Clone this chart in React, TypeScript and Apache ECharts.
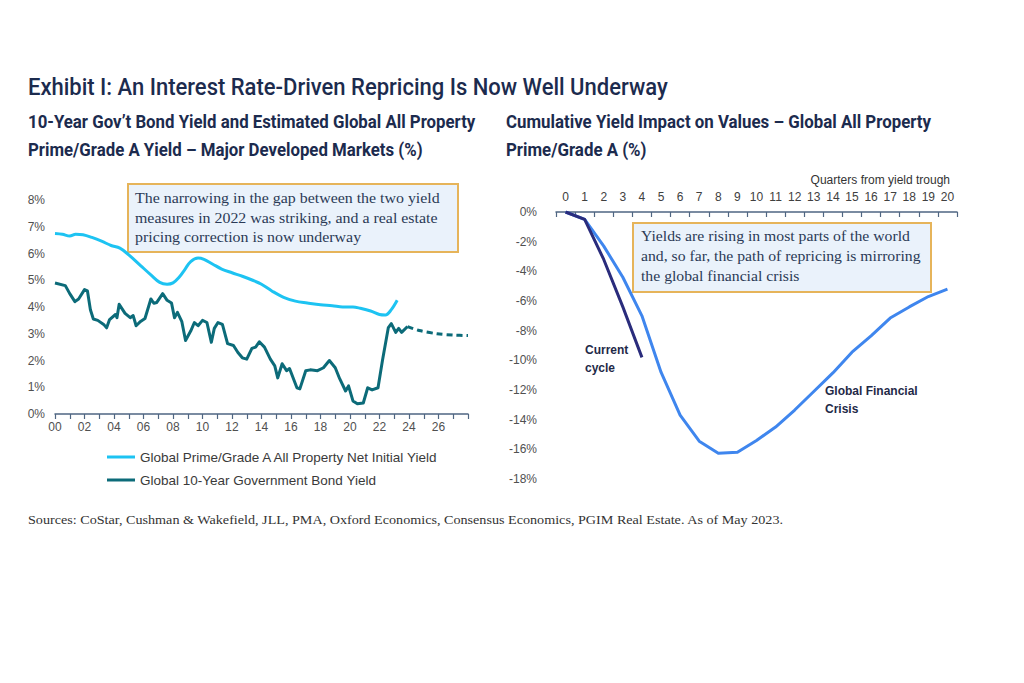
import React, { useEffect, useRef } from 'react';
import * as echarts from 'echarts';

// ---------- Data ----------
const primeYield: [number, number][] = [
  [2000, 6.75], [2000.5, 6.72], [2001, 6.65], [2001.4, 6.72], [2001.9, 6.7], [2002.5, 6.6],
  [2003.2, 6.45], [2003.8, 6.3], [2004.4, 6.2], [2005.0, 5.95], [2005.8, 5.55], [2006.5, 5.2],
  [2007.1, 4.92], [2007.6, 4.85], [2008.0, 4.9], [2008.4, 5.1], [2008.8, 5.4], [2009.2, 5.7],
  [2009.7, 5.83], [2010.1, 5.78], [2010.7, 5.6], [2011.3, 5.42], [2012.0, 5.28], [2012.7, 5.15],
  [2013.4, 5.0], [2014.0, 4.85], [2014.7, 4.6], [2015.5, 4.36], [2016.3, 4.22], [2017.1, 4.15],
  [2018.0, 4.08], [2018.8, 4.05], [2019.5, 4.0], [2020.2, 4.0], [2020.7, 3.95], [2021.4, 3.85],
  [2022.0, 3.72], [2022.4, 3.7], [2022.8, 3.9], [2023.2, 4.25],
];

const bondYield: [number, number][] = [
  [2000, 4.9], [2000.7, 4.8], [2001.0, 4.5], [2001.35, 4.2], [2001.6, 4.3], [2002.0, 4.65],
  [2002.2, 4.6], [2002.4, 3.9], [2002.6, 3.55], [2002.9, 3.5], [2003.3, 3.35], [2003.5, 3.22],
  [2003.7, 3.53], [2004.1, 3.72], [2004.2, 3.6], [2004.35, 4.1], [2004.75, 3.76], [2005.1, 3.6],
  [2005.3, 3.68], [2005.5, 3.3], [2005.8, 3.46], [2006.1, 3.57], [2006.5, 4.3], [2006.7, 4.14],
  [2006.9, 4.17], [2007.3, 4.5], [2007.6, 4.25], [2007.9, 4.15], [2008.1, 3.6], [2008.3, 3.8],
  [2008.6, 3.45], [2008.85, 2.75], [2009.2, 3.1], [2009.45, 3.42], [2009.7, 3.3], [2010.0, 3.5],
  [2010.3, 3.42], [2010.6, 2.68], [2010.8, 3.2], [2011.05, 3.42], [2011.35, 3.35], [2011.7, 2.63],
  [2012.1, 2.56], [2012.4, 2.3], [2012.7, 2.1], [2013.0, 2.05], [2013.35, 2.45], [2013.6, 2.5],
  [2013.85, 2.7], [2014.2, 2.5], [2014.6, 2.05], [2014.9, 1.8], [2015.1, 1.35], [2015.4, 1.88],
  [2015.7, 1.62], [2015.9, 1.7], [2016.4, 0.98], [2016.6, 0.94], [2017.0, 1.62], [2017.3, 1.65],
  [2017.8, 1.62], [2018.2, 1.73], [2018.6, 2.0], [2019.0, 1.73], [2019.3, 1.32], [2019.7, 0.86],
  [2019.9, 1.05], [2020.2, 0.49], [2020.5, 0.38], [2020.9, 0.41], [2021.2, 0.98], [2021.5, 0.9],
  [2021.9, 0.98], [2022.2, 2.0], [2022.6, 3.23], [2022.8, 3.38], [2023.1, 3.05], [2023.3, 3.2],
  [2023.5, 3.05], [2023.9, 3.27],
];

const bondForecast: [number, number][] = [
  [2023.9, 3.27], [2024.7, 3.12], [2025.9, 3.0], [2027.0, 2.95], [2028.0, 2.93],
];

const quarterLabels = ['0', '1', '2', '3', '4', '5', '6', '7', '8', '9', '10', '11', '12', '13', '14', '15', '16', '17', '18', '19', '20'];
const gfcImpact = [0, -0.5, -2.3, -4.4, -7.0, -10.8, -13.7, -15.45, -16.27, -16.2, -15.4, -14.5, -13.35, -12.1, -10.85, -9.45, -8.35, -7.15, -6.4, -5.7, -5.2];
const currentImpact = [0, -0.5, -3.2, -6.4, -9.8];

// ---------- Texts ----------
const TITLE = 'Exhibit I: An Interest Rate-Driven Repricing Is Now Well Underway';
const SUB_L1 = '10-Year Gov\u2019t Bond Yield and Estimated Global All Property';
const SUB_L2 = 'Prime/Grade A Yield \u2013 Major Developed Markets (%)';
const SUB_R1 = 'Cumulative Yield Impact on Values \u2013 Global All Property';
const SUB_R2 = 'Prime/Grade A (%)';
const NOTE_L = ['The narrowing in the gap between the two yield', 'measures in 2022 was striking, and a real estate', 'pricing correction is now underway'];
const NOTE_R = ['Yields are rising in most parts of the world', 'and, so far, the path of repricing is mirroring', 'the global financial crisis'];
const SOURCES = 'Sources: CoStar, Cushman & Wakefield, JLL, PMA, Oxford Economics, Consensus Economics, PGIM Real Estate. As of May 2023.';
const NAME_PRIME = 'Global Prime/Grade A All Property Net Initial Yield';
const NAME_BOND = 'Global 10-Year Government Bond Yield';

const FONT_SANS = "'Liberation Sans', Arial, sans-serif";
const FONT_COND = "'Liberation Sans Narrow', Roboto, 'Liberation Sans', sans-serif";
const FONT_SERIF = "'Liberation Serif', 'DejaVu Serif', serif";

const NAVY = '#1c2b4e';
const C_PRIME = '#1dc3f2';
const C_BOND = '#0c6b79';
const C_GFC = '#3f86ee';
const C_CUR = '#2a2c7c';
const C_AXIS = '#4f6682';

let mctx: CanvasRenderingContext2D | null = null;
function fitScale(text: string, size: number, weight: string, family: string, target: number) {
  if (!mctx) mctx = document.createElement('canvas').getContext('2d');
  if (!mctx) return 1;
  mctx.font = `${weight} ${size}px ${family}`;
  const w = mctx.measureText(text).width;
  return w > 0 ? target / w : 1;
}

function txt(text: string, x: number, y: number, size: number, weight: string, family: string, color: string, scaleX = 1, align = 'left', vAlign = 'middle', lineHeight?: number) {
  return {
    type: 'text',
    x, y, scaleX, silent: true,
    style: { text, fill: color, fontSize: size, fontWeight: weight, fontFamily: family, align, verticalAlign: vAlign, lineHeight },
  };
}

export default function App() {
  const ref = useRef<HTMLDivElement>(null);
  useEffect(() => {
    if (!ref.current) return;
    const chart = echarts.init(ref.current, null, { renderer: 'svg', width: 1024, height: 683 });

    const sTitle = fitScale(TITLE, 24, '500', FONT_COND, 640);
    const sSubL = fitScale(SUB_L1, 18, 'bold', FONT_COND, 448);
    const sSubR = fitScale(SUB_R1, 18, 'bold', FONT_COND, 425);
    const sSrc = fitScale(SOURCES, 13, 'normal', FONT_SERIF, 757);
    const sNoteL = fitScale(NOTE_L[0], 15, 'normal', FONT_SERIF, 305);
    const sNoteR = fitScale(NOTE_R[0], 15, 'normal', FONT_SERIF, 269);

    const option: any = {
      animation: false,
      backgroundColor: '#ffffff',
      grid: [
        { left: 55, right: 556, top: 200, bottom: 269, containLabel: false, outerBoundsMode: 'none' },
        { left: 556, right: 67, top: 212, bottom: 204, containLabel: false, outerBoundsMode: 'none' },
      ],
      legend: {
        left: 107, top: 450, orient: 'vertical', itemGap: 9, itemWidth: 28, itemHeight: 3,
        padding: 0,
        icon: 'rect',
        data: [NAME_PRIME, NAME_BOND],
        textStyle: { fontSize: 13.5, color: '#3a3a3a', fontFamily: FONT_SANS },
      },
      xAxis: [
        {
          type: 'value', gridIndex: 0, min: 2000, max: 2028, interval: 1,
          axisLine: { show: true, lineStyle: { color: C_AXIS, width: 1.5 } },
          axisTick: { show: true, length: 5, inside: false, lineStyle: { color: C_AXIS, width: 1.2 } },
          splitLine: { show: false },
          axisLabel: {
            margin: 7, fontSize: 12, color: '#505050', fontFamily: FONT_SANS,
            formatter: (v: number) => (v % 2 === 0 && v < 2028 ? String(v).slice(2) : ''),
          },
        },
        {
          type: 'category', gridIndex: 1, position: 'top', data: quarterLabels, boundaryGap: true,
          axisLine: { show: true, lineStyle: { color: C_AXIS, width: 1.5 } },
          axisTick: { show: true, length: 5, inside: true, alignWithLabel: false, lineStyle: { color: C_AXIS, width: 1.2 } },
          axisLabel: { interval: 0, margin: 9, fontSize: 12, color: '#404040', fontFamily: FONT_SANS },
          splitLine: { show: false },
        },
      ],
      yAxis: [
        {
          type: 'value', gridIndex: 0, min: 0, max: 8, interval: 1,
          axisLine: { show: false }, axisTick: { show: false }, splitLine: { show: false },
          axisLabel: { margin: 10, fontSize: 12, color: '#505050', fontFamily: FONT_SANS, formatter: (v: number) => `${v}%` },
        },
        {
          type: 'value', gridIndex: 1, min: -18, max: 0, interval: 2,
          axisLine: { show: false }, axisTick: { show: false }, splitLine: { show: false },
          axisLabel: { margin: 19, fontSize: 12, color: '#505050', fontFamily: FONT_SANS, formatter: (v: number) => `${v}%` },
        },
      ],
      series: [
        {
          name: NAME_PRIME, type: 'line', xAxisIndex: 0, yAxisIndex: 0, data: primeYield,
          showSymbol: false, smooth: 0.35, lineStyle: { color: C_PRIME, width: 3 }, itemStyle: { color: C_PRIME },
        },
        {
          name: NAME_BOND, type: 'line', xAxisIndex: 0, yAxisIndex: 0, data: bondYield,
          showSymbol: false, lineStyle: { color: C_BOND, width: 3, join: 'round' }, itemStyle: { color: C_BOND },
        },
        {
          name: 'Forecast', type: 'line', xAxisIndex: 0, yAxisIndex: 0, data: bondForecast,
          showSymbol: false, smooth: 0.3, lineStyle: { color: C_BOND, width: 3, type: [6, 4] }, itemStyle: { color: C_BOND },
        },
        {
          name: 'Global Financial Crisis', type: 'line', xAxisIndex: 1, yAxisIndex: 1, data: gfcImpact,
          showSymbol: false, lineStyle: { color: C_GFC, width: 3, join: 'round' }, itemStyle: { color: C_GFC },
        },
        {
          name: 'Current cycle', type: 'line', xAxisIndex: 1, yAxisIndex: 1, data: currentImpact,
          showSymbol: false, lineStyle: { color: C_CUR, width: 3, join: 'round' }, itemStyle: { color: C_CUR },
        },
      ],
      graphic: [
        txt(TITLE, 28, 87, 24, '500', FONT_COND, NAVY, sTitle),
        txt(SUB_L1, 28, 122, 18, 'bold', FONT_COND, NAVY, sSubL),
        txt(SUB_L2, 28, 150, 18, 'bold', FONT_COND, NAVY, sSubL),
        txt(SUB_R1, 506, 122, 18, 'bold', FONT_COND, NAVY, sSubR),
        txt(SUB_R2, 506, 150, 18, 'bold', FONT_COND, NAVY, sSubR),
        {
          type: 'rect', silent: true,
          shape: { x: 128, y: 184, width: 330, height: 68 },
          style: { fill: '#eaf2fb', stroke: '#e6b45a', lineWidth: 2 },
        },
        txt(NOTE_L.join('\n'), 135, 188, 15, 'normal', FONT_SERIF, '#2b3a56', sNoteL, 'left', 'top', 19.5),
        {
          type: 'rect', silent: true,
          shape: { x: 633, y: 223, width: 298, height: 69 },
          style: { fill: '#eaf2fb', stroke: '#e6b45a', lineWidth: 2 },
        },
        txt(NOTE_R.join('\n'), 641, 226, 15, 'normal', FONT_SERIF, '#2b3a56', sNoteR, 'left', 'top', 20),
        txt('Quarters from yield trough', 950, 180, 12, 'normal', FONT_SANS, '#333333', 1, 'right'),
        txt('Current\ncycle', 585, 341, 12, 'bold', FONT_SANS, '#1f2a48', 1, 'left', 'top', 18),
        txt('Global Financial\nCrisis', 825, 382, 12, 'bold', FONT_SANS, '#1f2a48', 1, 'left', 'top', 18),
        txt(SOURCES, 28, 520, 13, 'normal', FONT_SERIF, '#333333', sSrc),
      ],
    };
    chart.setOption(option);
    return () => chart.dispose();
  }, []);
  return <div ref={ref} style={{ position: 'absolute', left: 0, top: 0, width: 1024, height: 683 }} />;
}
